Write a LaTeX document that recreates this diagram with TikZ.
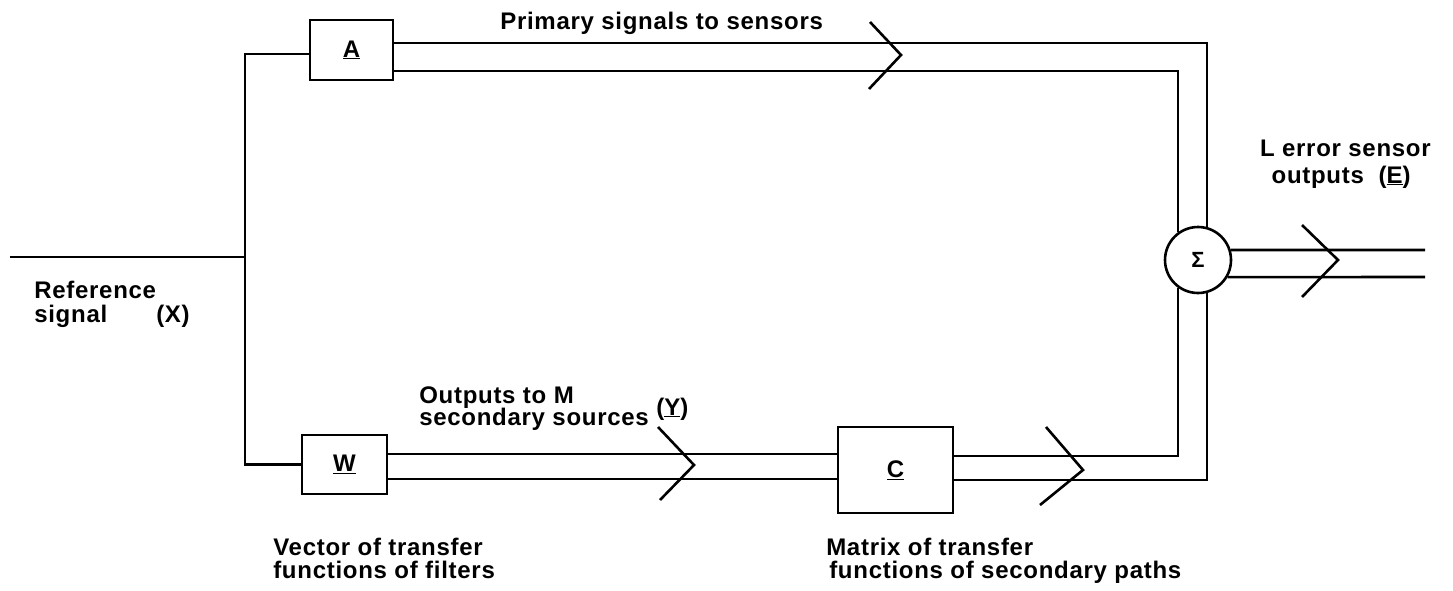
\documentclass[tikz,border=0pt]{standalone}
\usepackage{fontspec}
\setmainfont{Liberation Sans}[LetterSpace=3]
\begin{document}
\begin{tikzpicture}[x=1pt,y=-1pt,
  every path/.style={line width=2.6pt, line join=miter},
  blk/.style={draw, line width=2.6pt, rectangle, inner sep=0pt, font=\fontsize{24}{24}\selectfont\bfseries},
  sumnode/.style={draw, line width=2.6pt, circle, minimum size=66pt, inner sep=0pt, font=\fontsize{22}{22}\selectfont\bfseries},
  lbl/.style={anchor=base west, inner sep=0pt, font=\fontsize{24}{24}\selectfont\bfseries},
  chev/.style={line width=2.6pt}]
\useasboundingbox (0,0) rectangle (1453,591);
% blocks
\node[blk, minimum width=83pt, minimum height=60pt] (A) at (351.5,50) {\underline{A}};
\node[blk, minimum width=85pt, minimum height=59pt] (W) at (344.5,464.5) {\underline{W}};
\node[blk, minimum width=115pt, minimum height=86pt] (C) at (895.5,470) {\underline{C}};
\node[sumnode] (sig) at (1198,260) {Σ};
% input
\coordinate (in) at (10,257);
\coordinate (j) at (245,257);
\coordinate (o1) at (1425,250);
\coordinate (o2) at (1425,277);
\draw (in) -- (j);
\draw ([yshift=-4pt]A.west) -| (j) |- (W.west);
% primary path (double)
\draw ([yshift=7pt]A.east) -| (sig.75);
\draw ([yshift=-21pt]A.east) -| (sig.126);
% secondary path (double)
\draw ([yshift=10.5pt]W.east) -- ([yshift=16pt]C.west);
\draw ([yshift=-14.5pt]W.east) -- ([yshift=-9pt]C.west);
\draw ([yshift=14pt]C.east) -| (sig.234);
\draw ([yshift=-10pt]C.east) -| (sig.285);
% outputs
\draw (sig.17) -- (o1);
\draw (sig.-30) -- (o2);
% chevrons
\draw[chev] (870,22) -- (901,55) -- (869,89);
\draw[chev] (658,427) -- (694,465) -- (660,500);
\draw[chev] (1046,427) -- (1083,470) -- (1040,505);
\draw[chev] (1302,225) -- (1338,260) -- (1302,297);
% labels
\node[lbl] (tprim) at (499,30) {Primary signals to sensors};
\node[lbl, anchor=base east] (terr1) at (1432,157) {L error sensor};
\node[lbl, anchor=base east] (terr2) at (1412,183) {outputs\ \ (\underline{E})};
\node[lbl] (tref1) at (33,298) {Reference};
\node[lbl] (tref2) at (33,322) {signal};
\node[lbl] (tx) at (155,322) {(X)};
\node[lbl] (tout1) at (418,403) {Outputs to M};
\node[lbl] (tout2) at (418,425) {secondary sources};
\node[lbl] (ty) at (655,415) {(\underline{Y})};
\node[lbl] (tvec1) at (272,555) {Vector of transfer};
\node[lbl] (tvec2) at (272,578) {functions of filters};
\node[lbl] (tmat1) at (825,555) {Matrix of transfer};
\node[lbl] (tmat2) at (828,578) {functions of secondary paths};
\end{tikzpicture}
\end{document}
